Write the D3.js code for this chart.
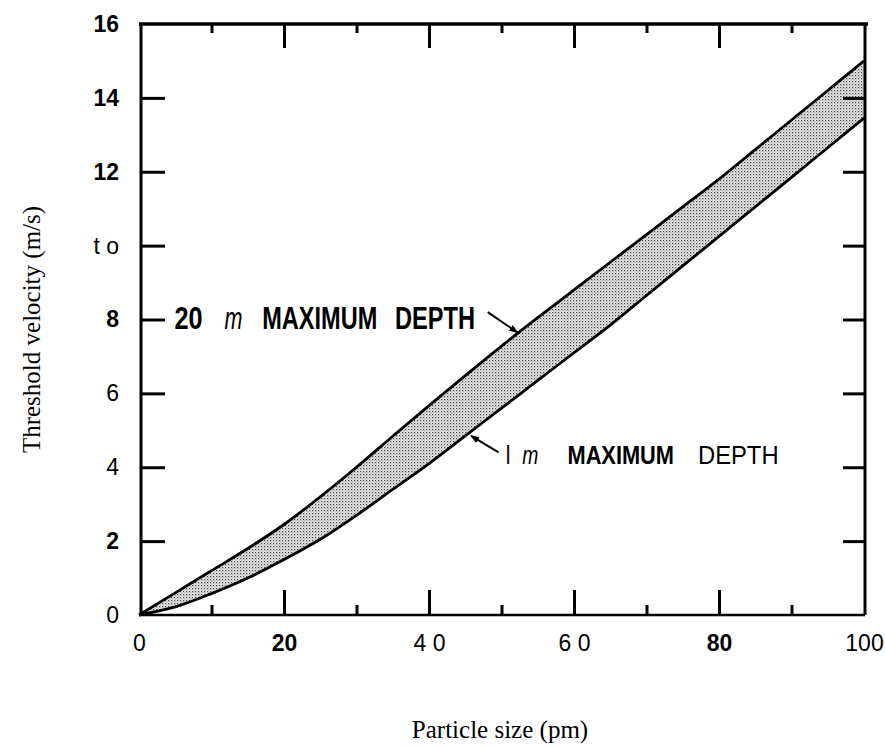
<!DOCTYPE html>
<meta charset="utf-8">
<script src="https://d3js.org/d3.v7.min.js"></script>
<style>
  body { margin: 0; background: #fff; }
</style>
<svg id="chart" width="885" height="749"></svg>
<script>
// particle size (pm) sampled along the band
const sizes = [0, 5, 10, 15, 20, 25, 30, 35, 40, 45, 50, 55, 60, 65, 70, 75, 80, 85, 90, 95, 100];
// 20 m maximum depth (upper edge of band)
const depth20 = [0, 0.6, 1.2, 1.8, 2.45, 3.2, 4.0, 4.84, 5.67, 6.48, 7.28, 8.05, 8.8, 9.55, 10.3, 11.05, 11.8, 12.6, 13.4, 14.2, 15.0];
// 1 m maximum depth (lower edge of band)
const depth1 = [0, 0.22, 0.58, 1.0, 1.5, 2.05, 2.7, 3.4, 4.1, 4.85, 5.6, 6.35, 7.1, 7.85, 8.65, 9.45, 10.25, 11.05, 11.85, 12.65, 13.45];

const xTicks = [0, 20, 40, 60, 80, 100];
const xTickLabels = ["0", "20", "4 0", "6 0", "80", "100"];
const xMinor = [10, 30, 50, 70, 90];
const yTicks = [0, 2, 4, 6, 8, 10, 12, 14, 16];
const yTickLabels = ["0", "2", "4", "6", "8", "t o", "12", "14", "16"];

const svg = d3.select("#chart");

const x = d3.scaleLinear().domain([0, 100]).range([139, 864]);
const y = d3.scaleLinear().domain([0, 16]).range([615, 24]);

// stipple pattern for the band
const defs = svg.append("defs");
const pat = defs.append("pattern")
  .attr("id", "stipple")
  .attr("width", 3).attr("height", 3)
  .attr("patternUnits", "userSpaceOnUse");
pat.append("rect").attr("width", 3).attr("height", 3).attr("fill", "#e6e6e6");
pat.append("rect").attr("x", 0).attr("y", 0).attr("width", 1.2).attr("height", 1.2).attr("fill", "#444");
pat.append("rect").attr("x", 1.5).attr("y", 1.5).attr("width", 0.9).attr("height", 0.9).attr("fill", "#777");

defs.append("marker")
  .attr("id", "arrow")
  .attr("viewBox", "0 0 10 10")
  .attr("refX", 9).attr("refY", 5)
  .attr("markerWidth", 9).attr("markerHeight", 9)
  .attr("markerUnits", "userSpaceOnUse")
  .attr("orient", "auto")
  .append("path")
  .attr("d", "M0,1 L10,5 L0,9 z")
  .attr("fill", "#000");

const band = sizes.map((s, i) => ({ s: s, hi: depth20[i], lo: depth1[i] }));

// band
svg.append("path")
  .datum(band)
  .attr("d", d3.area()
    .x(d => x(d.s))
    .y0(d => y(d.lo))
    .y1(d => y(d.hi))
    .curve(d3.curveCatmullRom))
  .attr("fill", "url(#stipple)");

// edges
[depth20, depth1].forEach(vals => {
  svg.append("path")
    .datum(sizes.map((s, i) => [s, vals[i]]))
    .attr("d", d3.line()
      .x(d => x(d[0]))
      .y(d => y(d[1]))
      .curve(d3.curveCatmullRom))
    .attr("fill", "none")
    .attr("stroke", "#000")
    .attr("stroke-width", 2.8);
});

// ticks (inward)
function ticks(axis, pos, size, vals) {
  const g = svg.append("g")
    .attr("transform", pos)
    .call(axis.tickValues(vals).tickSize(size).tickFormat(""));
  g.select(".domain").remove();
  g.selectAll(".tick line").attr("stroke", "#000").attr("stroke-width", 3);
}
ticks(d3.axisBottom(x), `translate(0,${y(0)})`, -25, [20, 40, 60, 80]);
ticks(d3.axisBottom(x), `translate(0,${y(0)})`, -10, xMinor);
ticks(d3.axisTop(x), `translate(0,${y(16)})`, -24, [20, 40, 60, 80]);
ticks(d3.axisTop(x), `translate(0,${y(16)})`, -9, xMinor);
ticks(d3.axisLeft(y), `translate(${x(0) + 2},0)`, -24, [2, 4, 6, 8, 10, 12, 14]);
ticks(d3.axisRight(y), `translate(${x(100) + 1},0)`, -22, [2, 4, 6, 8, 10, 12, 14]);

// frame
const frame = svg.append("g").attr("stroke", "#000").attr("fill", "none");
frame.append("line").attr("x1", x(0)).attr("x2", x(100) + 4).attr("y1", y(16)).attr("y2", y(16)).attr("stroke-width", 3.5);
frame.append("line").attr("x1", x(0) + 2).attr("x2", x(0) + 2).attr("y1", y(16)).attr("y2", y(0)).attr("stroke-width", 3);
frame.append("line").attr("x1", x(100) + 1).attr("x2", x(100) + 1).attr("y1", y(16)).attr("y2", y(0)).attr("stroke-width", 3);
frame.append("line").attr("x1", x(0)).attr("x2", x(100) + 1).attr("y1", y(0)).attr("y2", y(0)).attr("stroke-width", 2.6);

// tick labels
const boldLabels = new Set(["20", "80", "2", "8", "12", "14", "16"]);
const xl = svg.append("g")
  .attr("transform", `translate(0,${y(0)})`)
  .call(d3.axisBottom(x).tickValues(xTicks).tickSize(0).tickPadding(20)
    .tickFormat((d, i) => xTickLabels[i]));
xl.select(".domain").remove();
xl.selectAll("text")
  .attr("font-family", "Liberation Sans, Arial, sans-serif")
  .attr("font-size", 23)
  .attr("font-weight", d => boldLabels.has(xTickLabels[xTicks.indexOf(d)]) ? "bold" : "normal")
  .attr("fill", "#000");

const yl = svg.append("g")
  .attr("transform", `translate(${x(0) - 20},0)`)
  .call(d3.axisLeft(y).tickValues(yTicks).tickSize(0).tickPadding(0)
    .tickFormat((d, i) => yTickLabels[i]));
yl.select(".domain").remove();
yl.selectAll("text")
  .attr("font-family", "Liberation Sans, Arial, sans-serif")
  .attr("font-size", 23)
  .attr("font-weight", d => boldLabels.has(yTickLabels[yTicks.indexOf(d)]) ? "bold" : "normal")
  .attr("fill", "#000");

// axis titles
svg.append("text")
  .attr("transform", `translate(40,${(y(0) + y(16)) / 2 + 10}) rotate(-90)`)
  .attr("text-anchor", "middle")
  .attr("font-family", "Liberation Serif, Times New Roman, serif")
  .attr("font-size", 25)
  .text("Threshold velocity (m/s)");

svg.append("text")
  .attr("x", 500).attr("y", 738)
  .attr("text-anchor", "middle")
  .attr("font-family", "Liberation Serif, Times New Roman, serif")
  .attr("font-size", 25)
  .text("Particle size (pm)");

// annotations
const notes = [
  { parts: ["20", "m", "MAXIMUM", "DEPTH"], at: [4.9, 7.75], size: 32,
    weights: ["bold", "normal", "bold", "bold"],
    tail: [48.1, 8.2], tip: [52.2, 7.65] },
  { parts: ["l", "m", "MAXIMUM", "DEPTH"], at: [50.6, 4.1], size: 26,
    weights: ["normal", "normal", "bold", "normal"],
    tail: [49.6, 4.4], tip: [45.8, 4.85] }
];
const partItalic = ["normal", "italic", "normal", "normal"];
// widths of each word as ratio of font size (condensed lettering)
const partWidth = [[0.88, 0.56, 3.6, 2.5], [0.18, 0.62, 4.1, 3.1]];
const partGap = [[0.68, 0.62, 0.55], [0.45, 1.12, 0.92]];

notes.forEach((n, k) => {
  let cx = x(n.at[0]);
  const by = y(n.at[1]);
  n.parts.forEach((p, i) => {
    const w = partWidth[k][i] * n.size;
    const t = svg.append("text")
      .attr("font-size", n.size)
      .attr("font-family", "Liberation Sans, Arial, sans-serif")
      .attr("font-weight", n.weights[i])
      .attr("font-style", partItalic[i])
      .attr("fill", "#000")
      .text(p);
    const natural = t.node().getComputedTextLength();
    const sx = natural > 0 ? Math.min(1.4, w / natural) : 1;
    t.attr("transform", `translate(${cx},${by}) scale(${sx},1)`);
    cx += natural * sx + (i < 3 ? partGap[k][i] * n.size : 0);
  });
  svg.append("line")
    .attr("x1", x(n.tail[0])).attr("y1", y(n.tail[1]))
    .attr("x2", x(n.tip[0])).attr("y2", y(n.tip[1]))
    .attr("stroke", "#000").attr("stroke-width", 2)
    .attr("marker-end", "url(#arrow)");
});
</script>
